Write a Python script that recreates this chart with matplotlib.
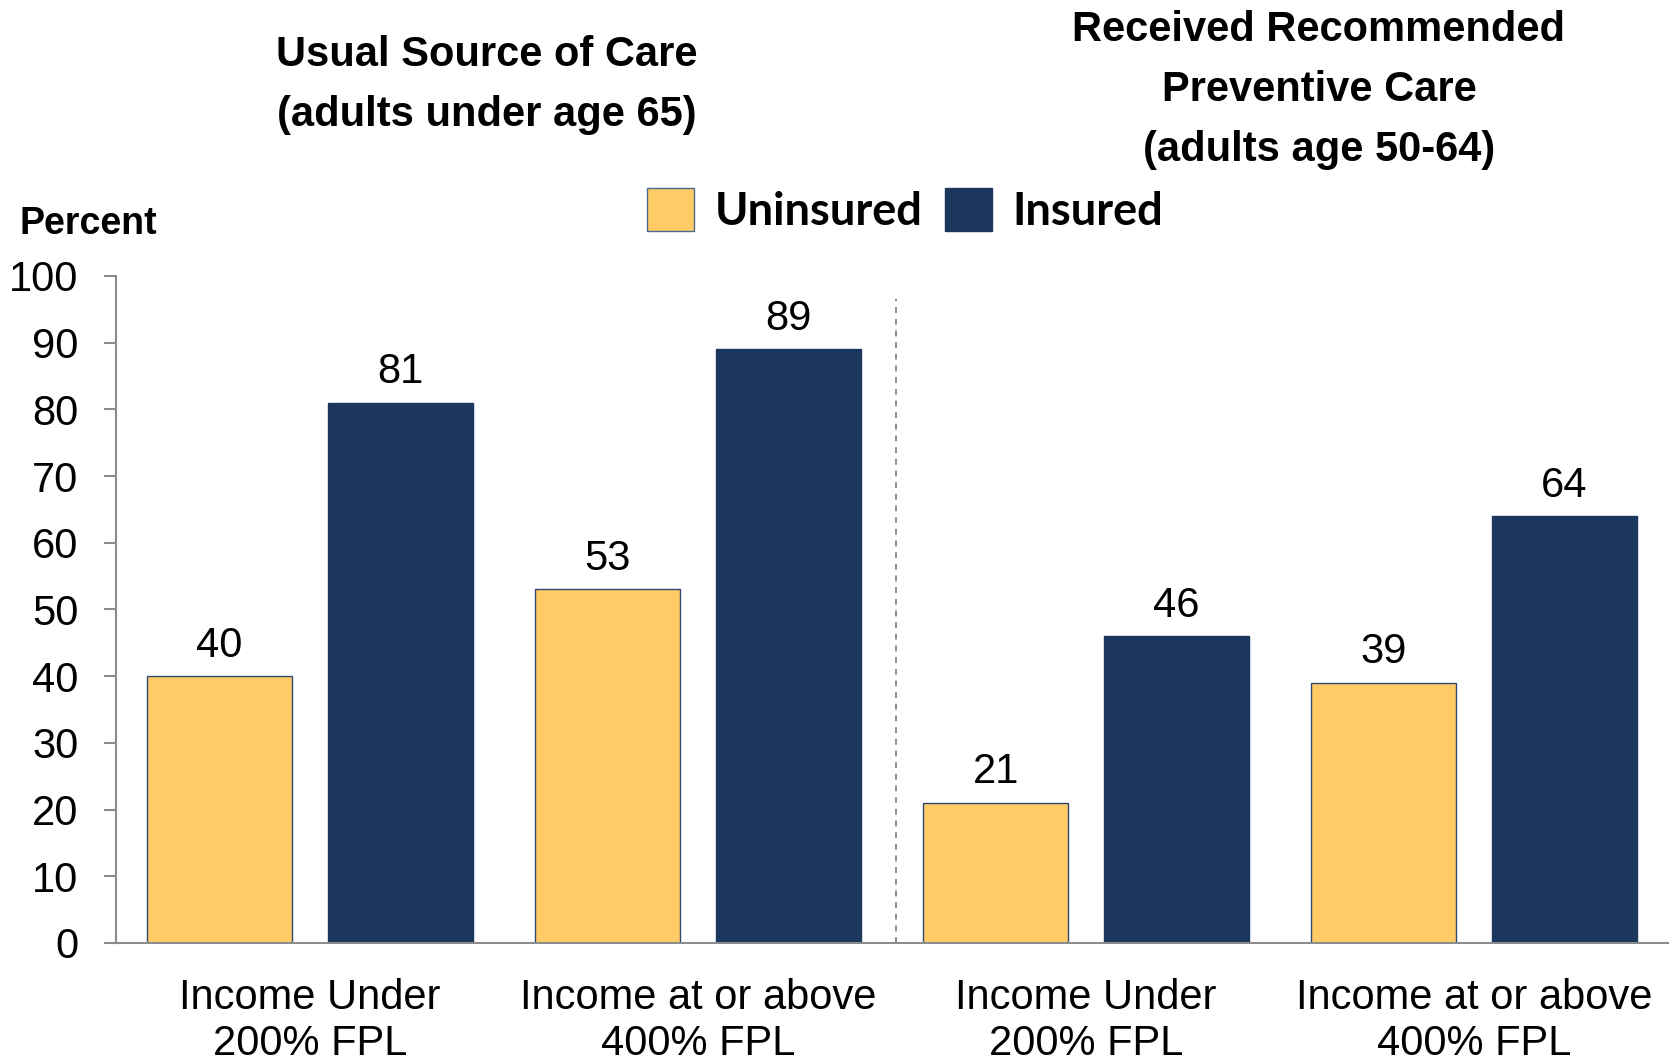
import matplotlib
matplotlib.use("Agg")
import matplotlib.pyplot as plt
import numpy as np
from matplotlib.patches import Patch

# Data: share of adults (%) by income group and insurance status
groups = ["Income Under\n200% FPL", "Income at or above\n400% FPL",
          "Income Under\n200% FPL", "Income at or above\n400% FPL"]
uninsured = [40, 53, 21, 39]
insured = [81, 89, 46, 64]
series_names = ["Uninsured", "Insured"]
panel_titles = ["Usual Source of Care\n(adults under age 65)",
                "Received Recommended\nPreventive Care\n(adults age 50-64)"]
yticks = [0, 10, 20, 30, 40, 50, 60, 70, 80, 90, 100]

YELLOW = "#FFCB66"
NAVY = "#1B375E"
GRAY = "#8C8C8C"

plt.rcParams["font.family"] = ["Liberation Sans", "DejaVu Sans"]

fig = plt.figure(figsize=(16.71, 10.62), dpi=100)
ax = fig.add_axes([0.0694, 0.1121, 0.9288, 0.6281])

x = np.arange(len(groups))
w = 0.374
off = 0.233
b1 = ax.bar(x - off, uninsured, w, color=YELLOW, edgecolor="#2E4A70", linewidth=1.0)
b2 = ax.bar(x + off, insured, w, color=NAVY, edgecolor=NAVY, linewidth=1.0)

for bars, vals in ((b1, uninsured), (b2, insured)):
    for rect, v in zip(bars, vals):
        ax.annotate(str(v), (rect.get_x() + rect.get_width() / 2, v),
                    xytext=(0, 14), textcoords="offset points",
                    ha="center", va="baseline", fontsize=30)

# divider between the two panels
ax.plot([1.511, 1.511], [0, 96.5], color=GRAY, lw=1.4, ls=(0, (3, 3)))

ax.set_xlim(-0.5, 3.5)
ax.set_ylim(0, 100)
ax.set_yticks(yticks)
ax.set_xticks(x)
ax.set_xticklabels(groups, fontsize=30, linespacing=1.2)
ax.tick_params(axis="y", labelsize=30, length=9, width=1.5, color=GRAY, pad=18)
ax.tick_params(axis="x", length=0, pad=25)
for s in ("top", "right"):
    ax.spines[s].set_visible(False)
for s in ("left", "bottom"):
    ax.spines[s].set_color(GRAY)
    ax.spines[s].set_linewidth(1.5)

fig.text(0.2914, 0.920, panel_titles[0], ha="center", va="center",
         fontsize=30, fontweight="bold", linespacing=1.64)
fig.text(0.7893, 0.915, panel_titles[1], ha="center", va="center",
         fontsize=30, fontweight="bold", linespacing=1.64)
fig.text(0.053, 0.789, "Percent", ha="center", va="center",
         fontsize=27, fontweight="bold")

handles = [Patch(facecolor=YELLOW, edgecolor="#4A6A90", linewidth=1.0),
           Patch(facecolor=NAVY, edgecolor=NAVY)]
fig.legend(handles, series_names, loc="center", bbox_to_anchor=(0.5416, 0.802),
           ncol=2, frameon=False, handlelength=1.05, handleheight=1.1,
           handletextpad=0.45, columnspacing=0.5, borderpad=0,
           prop={"family": "Lato", "weight": "bold", "size": 32.5})

fig.savefig("out.png", dpi=100)
